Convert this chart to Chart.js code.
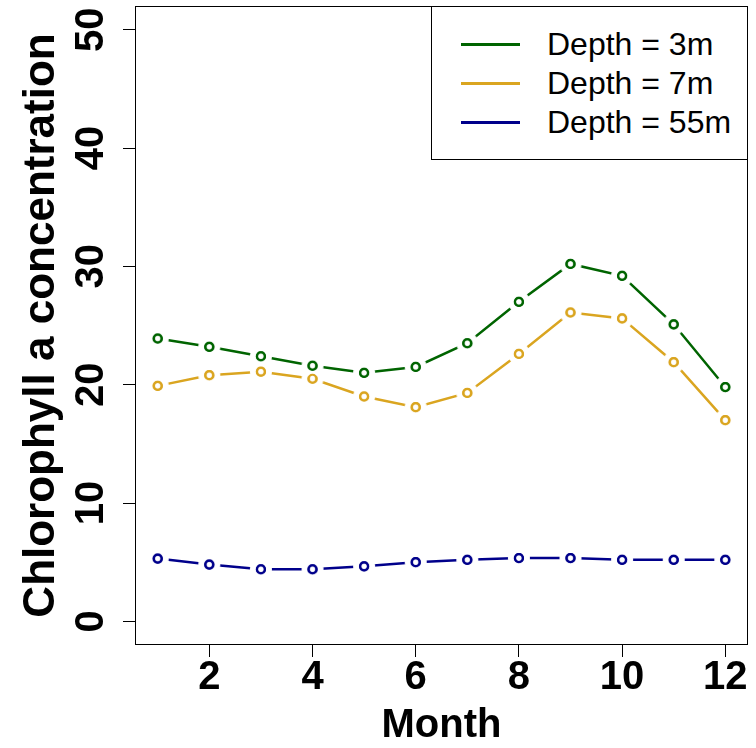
<!DOCTYPE html>
<html>
<head>
<meta charset="utf-8">
<script src="https://cdn.jsdelivr.net/npm/chart.js@4.4.1/dist/chart.umd.min.js"></script>
<style>
  html, body { margin: 0; padding: 0; background: #fff; }
  #wrap { position: relative; width: 756px; height: 748px; }
  canvas { display: block; }
  #legend {
    position: absolute; left: 431px; top: 6px; width: 317px; height: 154px;
    border: 1px solid #000; background: #fff; box-sizing: border-box;
    font-family: "Liberation Sans", Arial, sans-serif; font-size: 32px; color: #000;
  }
  .item { position: absolute; left: 0; height: 39px; width: 100%; }
  .item .ln { position: absolute; left: 29px; width: 59px; height: 3px; top: 18px; }
  .item .tx { position: absolute; left: 115px; top: 0; line-height: 39px; white-space: nowrap; }
</style>
</head>
<body>
<div id="wrap">
  <canvas id="c" width="756" height="748"></canvas>
  <div id="legend"></div>
</div>
<script>
const months = [1, 2, 3, 4, 5, 6, 7, 8, 9, 10, 11, 12];
const depth3  = [23.9, 23.2, 22.4, 21.6, 21.0, 21.5, 23.5, 27.0, 30.2, 29.2, 25.1, 19.8];
const depth7  = [19.9, 20.8, 21.1, 20.5, 19.0, 18.1, 19.3, 22.6, 26.1, 25.6, 21.9, 17.0];
const depth55 = [5.3, 4.8, 4.4, 4.4, 4.65, 5.0, 5.2, 5.35, 5.35, 5.2, 5.2, 5.2];
const seriesLabels = ["Depth = 3m", "Depth = 7m", "Depth = 55m"];
const seriesColors = ["#006400", "#DAA520", "#00008B"];
const xTicks = [2, 4, 6, 8, 10, 12];
const yTicks = [0, 10, 20, 30, 40, 50];

const allSeries = [depth3, depth7, depth55];
const pts = s => months.map((m, i) => ({ x: m, y: s[i] }));

// point marker for R type="b": white halo (hides the line near the point) + open circle
const HALO = 11, RING = 4, RING_W = 2.2;
function markerImage(color) {
  const size = 2 * HALO + 4, c = size / 2;
  const cv = document.createElement("canvas");
  cv.width = size; cv.height = size;
  const g = cv.getContext("2d");
  g.fillStyle = "#ffffff";
  g.beginPath(); g.arc(c, c, HALO, 0, Math.PI * 2); g.fill();
  g.strokeStyle = color; g.lineWidth = RING_W;
  g.beginPath(); g.arc(c, c, RING, 0, Math.PI * 2); g.stroke();
  return cv;
}

const datasets = [];
// open circles on top (redundant repaint of the rings)
allSeries.forEach((s, k) => datasets.push({
  type: "line", label: seriesLabels[k] + " points", data: pts(s), order: -1,
  showLine: false, pointRadius: RING, pointBorderWidth: RING_W, pointHoverRadius: RING,
  backgroundColor: "rgba(0,0,0,0)", borderColor: seriesColors[k],
  pointBackgroundColor: "rgba(0,0,0,0)", pointBorderColor: seriesColors[k]
}));
// lines, each with its own haloed markers
allSeries.forEach((s, k) => datasets.push({
  type: "line", label: seriesLabels[k], data: pts(s), order: 0,
  borderColor: seriesColors[k], borderWidth: 2.5, fill: false, tension: 0,
  pointStyle: markerImage(seriesColors[k]), pointRadius: HALO, pointHoverRadius: HALO
}));

const framePlugin = {
  id: "frame",
  afterDraw(chart) {
    const a = chart.chartArea, ctx = chart.ctx;
    ctx.save();
    ctx.strokeStyle = "#000"; ctx.lineWidth = 1;
    ctx.strokeRect(Math.round(a.left) + 0.5, Math.round(a.top) + 0.5,
                   Math.round(a.right - a.left) - 1, Math.round(a.bottom - a.top) - 1);
    ctx.restore();
  }
};

const tickFont = { family: "'Liberation Sans', Arial, sans-serif", size: 40, weight: "bold", lineHeight: 1 };
const xTitleFont = { family: "'Liberation Sans', Arial, sans-serif", size: 40, weight: "bold", lineHeight: 1.1 };
const yTitleFont = { family: "'Liberation Sans', Arial, sans-serif", size: 44, weight: "bold", lineHeight: 1 };

new Chart(document.getElementById("c"), {
  type: "line",
  data: { datasets },
  plugins: [framePlugin],
  options: {
    responsive: false, animation: false, devicePixelRatio: 1,
    layout: { autoPadding: false, padding: { left: 0, right: 8, top: 6, bottom: 0 } },
    plugins: { legend: { display: false }, tooltip: { enabled: false } },
    scales: {
      x: {
        type: "linear", min: 0.56, max: 12.44,
        afterBuildTicks: sc => { sc.ticks = xTicks.map(v => ({ value: v })); },
        afterFit: sc => { sc.height = 103; sc.paddingLeft = 0; sc.paddingRight = 0; },
        border: { display: false },
        grid: { drawOnChartArea: false, drawTicks: true, tickLength: 12, tickColor: "#000", color: "#000" },
        ticks: { color: "#000", font: tickFont, padding: 1, maxRotation: 0, minRotation: 0, autoSkip: false },
        title: { display: true, text: "Month", color: "#000", font: xTitleFont, padding: { top: 0, bottom: 0 } }
      },
      y: {
        type: "linear", min: -2, max: 52,
        afterBuildTicks: sc => { sc.ticks = yTicks.map(v => ({ value: v })); },
        afterFit: sc => { sc.width = 135; sc.paddingTop = 0; sc.paddingBottom = 0; },
        border: { display: false },
        grid: { drawOnChartArea: false, drawTicks: true, tickLength: 12, tickColor: "#000", color: "#000" },
        ticks: { color: "#000", font: tickFont, padding: 9, minRotation: 90, maxRotation: 90, crossAlign: "center", autoSkip: false },
        title: { display: true, text: "Chlorophyll a concentration", color: "#000", font: yTitleFont, padding: { top: 20, bottom: 0 } }
      }
    }
  }
});

const lg = document.getElementById("legend");
seriesLabels.forEach((lab, k) => {
  const it = document.createElement("div");
  it.className = "item";
  it.style.top = (18 + 39 * k) + "px";
  const ln = document.createElement("div");
  ln.className = "ln"; ln.style.background = seriesColors[k];
  const tx = document.createElement("div");
  tx.className = "tx"; tx.textContent = lab;
  it.appendChild(ln); it.appendChild(tx);
  lg.appendChild(it);
});
</script>
</body>
</html>
